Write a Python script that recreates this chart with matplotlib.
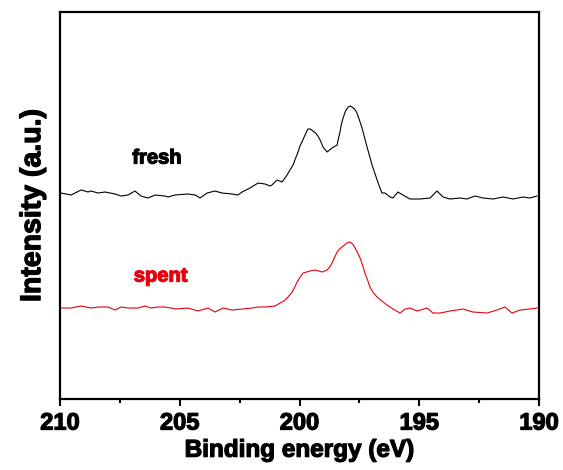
import matplotlib.pyplot as plt
import matplotlib.patheffects as pe
from matplotlib.ticker import MultipleLocator

# S 2p spectra, binding energy (eV) vs intensity (a.u.)
fresh_be = [209.96, 209.54, 209.12, 208.83, 208.71, 208.41, 208.12, 207.70, 207.45,
            207.16, 206.87, 206.62, 206.33, 206.03, 205.62, 205.49, 205.20, 204.66,
            204.36, 204.15, 203.86, 203.53, 203.24, 202.82, 202.57, 202.40, 202.07,
            201.73, 201.44, 201.23, 201.15, 200.94, 200.73, 200.52, 200.40, 200.27,
            200.16, 200.06, 199.98, 199.90, 199.77, 199.65, 199.55, 199.44, 199.33,
            199.23, 199.12, 199.02, 198.85, 198.64, 198.43, 198.37, 198.31, 198.25,
            198.18, 198.08, 197.97, 197.89, 197.81, 197.70, 197.60, 197.50, 197.39,
            197.29, 197.18, 196.97, 196.76, 196.56, 196.43, 196.22, 196.10, 195.89,
            195.68, 195.39, 194.97, 194.55, 194.26, 194.01, 193.72, 193.30, 193.01,
            192.67, 192.34, 191.92, 191.50, 191.09, 190.67, 190.38, 190.08]
fresh_int = [206, 204, 209, 207, 208, 206, 207, 205, 203,
             204, 208, 203, 201, 204, 203, 202, 204, 205,
             204, 201, 206, 208, 206, 205, 204, 207, 211,
             216, 215, 213, 214, 219, 217, 224, 229, 234,
             241, 247, 253, 257, 264, 270, 270, 268, 266,
             263, 258, 252, 247, 251, 254, 261, 267, 275,
             281, 288, 292, 293, 292, 290, 286, 279, 271,
             262, 252, 234, 219, 206, 206, 202, 201, 207,
             204, 200, 200, 201, 208, 202, 200, 201, 200,
             203, 201, 200, 202, 200, 202, 201, 203]

spent_be = [209.96, 209.54, 209.12, 208.71, 208.41, 208.00, 207.70, 207.45, 207.16,
            206.74, 206.45, 206.20, 205.91, 205.62, 205.37, 205.16, 204.66, 204.24,
            203.82, 203.53, 203.19, 202.82, 202.40, 201.98, 201.73, 201.44, 201.02,
            200.81, 200.66, 200.52, 200.41, 200.31, 200.20, 200.10, 199.97, 199.85,
            199.70, 199.56, 199.35, 199.20, 199.06, 198.85, 198.74, 198.64, 198.53,
            198.43, 198.33, 198.23, 198.12, 198.02, 197.89, 197.78, 197.68, 197.57,
            197.47, 197.37, 197.27, 197.16, 197.06, 196.91, 196.76, 196.51, 196.35,
            196.10, 195.80, 195.59, 195.39, 195.09, 194.68, 194.43, 194.13, 193.72,
            193.17, 192.76, 192.17, 191.75, 191.42, 191.13, 190.79, 190.38, 190.08]
spent_int = [91, 91, 93, 91, 92, 92, 89, 92, 91,
             91, 93, 91, 92, 92, 91, 90, 91, 88,
             91, 87, 91, 89, 90, 91, 92, 92, 93,
             96, 98, 101, 104, 107, 112, 117, 122, 126,
             127, 128, 129, 128, 127, 129, 132, 136, 142,
             147, 150, 152, 154, 156, 157, 155, 151, 146,
             141, 134, 126, 119, 112, 106, 102, 97, 94,
             90, 86, 90, 91, 88, 91, 86, 86, 88,
             90, 87, 86, 89, 92, 86, 89, 90, 91]

xticks = [210, 205, 200, 195, 190]

plt.rcParams['font.family'] = ['Liberation Sans', 'DejaVu Sans']
plt.rcParams['font.weight'] = 'bold'


def heavy(color):
    # thicken the bold glyphs a little
    return [pe.withStroke(linewidth=0.9, foreground=color)]


fig = plt.figure(figsize=(5.63, 4.70), dpi=100)
ax = fig.add_axes([0.1066, 0.151, 0.8508, 0.8235])

ax.plot(fresh_be, fresh_int, color='black', lw=0.8)
ax.plot(spent_be, spent_int, color='#e8000b', lw=0.8)

ax.text(205.95, 241, 'fresh', color='black', fontsize=14.5, fontweight='bold',
        ha='center', va='center', path_effects=heavy('black'))
ax.text(205.8, 123, 'spent', color='#e8000b', fontsize=14.5, fontweight='bold',
        ha='center', va='center', path_effects=heavy('#e8000b'))

ax.set_xlim(210, 190)
ax.set_ylim(0, 387)
ax.set_xticks(xticks)
ax.set_xticklabels([str(t) for t in xticks])
ax.xaxis.set_minor_locator(MultipleLocator(2.5))
ax.set_yticks([])

for s in ax.spines.values():
    s.set_linewidth(1.6)
ax.tick_params(axis='x', which='major', direction='out', length=5, width=1.5,
               labelsize=17, pad=4)
ax.tick_params(axis='x', which='minor', direction='out', length=3, width=1.5)
for lbl in ax.get_xticklabels():
    lbl.set_path_effects(heavy('black'))

ax.set_xlabel('Binding energy (eV)', fontsize=17.5, fontweight='bold', labelpad=3,
              path_effects=heavy('black'))
ax.set_ylabel('Intensity (a.u.)', fontsize=20.5, fontweight='bold', labelpad=10,
              path_effects=heavy('black'))

fig.savefig('out.png', dpi=100)
